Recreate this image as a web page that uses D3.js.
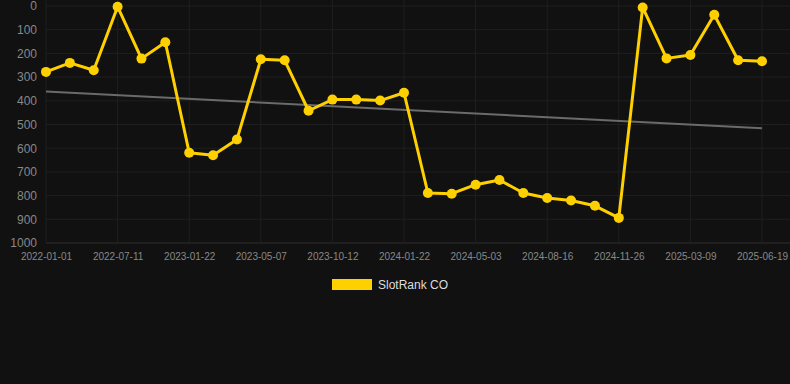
<!DOCTYPE html>
<html>
<head>
<meta charset="utf-8">
<script src="https://cdn.jsdelivr.net/npm/d3@7"></script>
<style>
  html, body { margin: 0; padding: 0; background: #111111; }
  svg { display: block; }
</style>
</head>
<body>
<svg id="chart"></svg>
<script>
// rank per sample, 31 samples evenly spaced on a category axis
const ranks = [278, 240, 271, 3, 222, 153, 619, 630, 563, 225, 229, 442, 395, 395, 399, 366,
               789, 792, 754, 734, 789, 810, 821, 843, 894, 6, 221, 207, 37, 229, 233]
// labels shown on every third sample
const tickLabels = ['2022-01-01', '2022-07-11', '2023-01-22', '2023-05-07', '2023-10-12', '2024-01-22',
                    '2024-05-03', '2024-08-16', '2024-11-26', '2025-03-09', '2025-06-19']
const yTicks = [0, 100, 200, 300, 400, 500, 600, 700, 800, 900, 1000]
const seriesName = 'SlotRank CO'

const fullWidth = 790
const fullHeight = 384
const plot = { left: 46, right: 762, top: 6, bottom: 243, gridRight: 790 }

const svg = d3.select('#chart')
    .attr('width', fullWidth)
    .attr('height', fullHeight)

svg.append('rect')
    .attr('width', fullWidth)
    .attr('height', fullHeight)
    .attr('fill', '#111111')

const xScale = d3.scaleLinear()
    .domain([0, ranks.length - 1])
    .range([plot.left, plot.right])

const yScale = d3.scaleLinear()
    .domain([0, 1000])
    .range([plot.top, plot.bottom])

const tickIdx = tickLabels.map((_, i) => i * 3)

// grid
const grid = svg.append('g')
grid.selectAll('line.h')
    .data(yTicks)
    .enter().append('line')
        .attr('x1', plot.left)
        .attr('x2', plot.gridRight)
        .attr('y1', d => yScale(d))
        .attr('y2', d => yScale(d))
        .attr('stroke', d => d === 1000 ? '#2e2e2e' : '#1f1f1f')
        .attr('stroke-width', 1)
grid.selectAll('line.v')
    .data(tickIdx)
    .enter().append('line')
        .attr('x1', d => xScale(d))
        .attr('x2', d => xScale(d))
        .attr('y1', 0)
        .attr('y2', plot.bottom)
        .attr('stroke', '#1f1f1f')
        .attr('stroke-width', 1)

// y axis
const yAxis = svg.append('g')
    .attr('transform', `translate(${plot.left - 9}, 0)`)
    .call(d3.axisLeft(yScale).tickValues(yTicks).tickFormat(d3.format('d')).tickSize(0).tickPadding(0))
yAxis.select('.domain').remove()
yAxis.selectAll('text')
    .attr('fill', '#888888')
    .attr('font-family', 'Liberation Sans, Arial, sans-serif')
    .attr('font-size', '12px')

// x axis
const xAxis = svg.append('g')
    .attr('transform', `translate(0, ${plot.bottom + 4})`)
    .call(d3.axisBottom(xScale)
        .tickValues(tickIdx)
        .tickFormat((d, i) => tickLabels[i])
        .tickSize(0)
        .tickPadding(6))
xAxis.select('.domain').remove()
xAxis.selectAll('text')
    .attr('fill', '#888888')
    .attr('font-family', 'Liberation Sans, Arial, sans-serif')
    .attr('font-size', '10px')

// trend line (least squares over the samples)
const n = ranks.length
const meanX = d3.mean(ranks, (_, i) => i)
const meanY = d3.mean(ranks)
const slope = d3.sum(ranks, (v, i) => (i - meanX) * (v - meanY)) / d3.sum(ranks, (_, i) => (i - meanX) ** 2)
const intercept = meanY - slope * meanX
const trend = [0, n - 1].map(i => [i, intercept + slope * i])

svg.append('path')
    .datum(trend)
    .attr('fill', 'none')
    .attr('stroke', '#6b6b6b')
    .attr('stroke-width', 2)
    .attr('d', d3.line().x(d => xScale(d[0])).y(d => yScale(d[1])))

// series
svg.append('path')
    .datum(ranks)
    .attr('fill', 'none')
    .attr('stroke', '#FFD000')
    .attr('stroke-width', 3)
    .attr('stroke-linejoin', 'round')
    .attr('d', d3.line().x((_, i) => xScale(i)).y(d => yScale(d)))

svg.append('g')
    .selectAll('circle')
    .data(ranks)
    .enter().append('circle')
        .attr('cx', (_, i) => xScale(i))
        .attr('cy', d => yScale(d))
        .attr('r', 5)
        .attr('fill', '#FFD000')

// legend
const legend = svg.append('g').attr('transform', 'translate(332, 279)')
legend.append('rect')
    .attr('width', 40)
    .attr('height', 11)
    .attr('fill', '#FFD000')
legend.append('text')
    .attr('x', 46)
    .attr('y', 10)
    .attr('fill', '#dddddd')
    .attr('font-family', 'Liberation Sans, Arial, sans-serif')
    .attr('font-size', '12px')
    .text(seriesName)
</script>
</body>
</html>
